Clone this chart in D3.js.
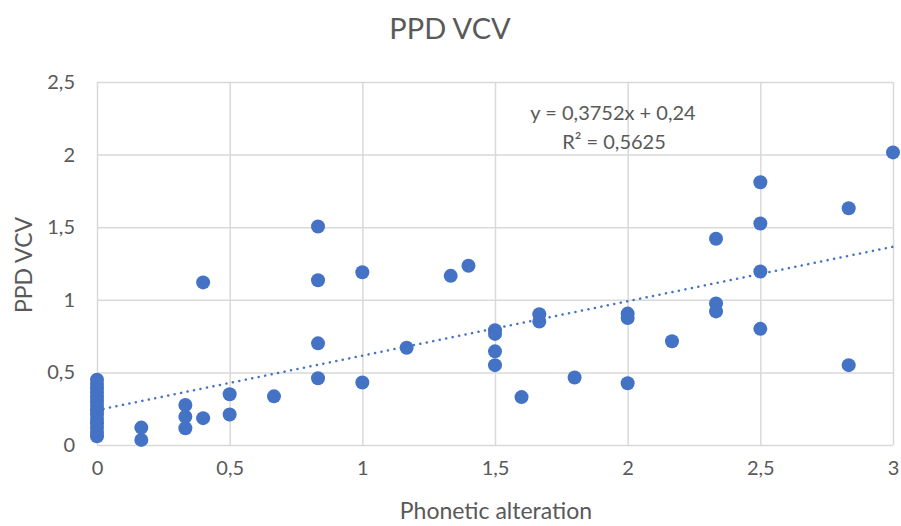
<!DOCTYPE html>
<html>
<head>
<meta charset="utf-8">
<script src="https://cdn.jsdelivr.net/npm/d3@7"></script>
<style>
  body { margin: 0; background: #fff; }
  text { font-family: Lato, "Open Sans", sans-serif; fill: #595959; }
</style>
</head>
<body>
<div class="container"></div>
<script>
// data
const phonetic = [
  0, 0, 0, 0, 0, 0, 0, 0, 0, 0, 0, 0, 0, 0,
  0.167, 0.167,
  0.333, 0.333, 0.333,
  0.4, 0.4,
  0.5, 0.5,
  0.667,
  0.833, 0.833, 0.833, 0.833,
  1, 1,
  1.167, 1.333, 1.4,
  1.5, 1.5, 1.5, 1.5,
  1.6,
  1.667, 1.667,
  1.8,
  2, 2, 2,
  2.167,
  2.333, 2.333, 2.333,
  2.5, 2.5, 2.5, 2.5,
  2.833, 2.833,
  3
]
const ppdVcv = [
  0.06, 0.09, 0.12, 0.15, 0.18, 0.21, 0.24, 0.27, 0.30, 0.33, 0.36, 0.39, 0.42, 0.45,
  0.035, 0.12,
  0.275, 0.195, 0.115,
  1.12, 0.185,
  0.35, 0.21,
  0.335,
  1.505, 1.135, 0.70, 0.46,
  1.19, 0.43,
  0.67, 1.165, 1.235,
  0.79, 0.765, 0.645, 0.55,
  0.33,
  0.90, 0.85,
  0.465,
  0.905, 0.875, 0.425,
  0.715,
  1.42, 0.975, 0.92,
  1.81, 1.525, 1.195, 0.80,
  1.63, 0.55,
  2.015
]
const xTicks = [0, 0.5, 1, 1.5, 2, 2.5, 3]
const yTicks = [0, 0.5, 1, 1.5, 2, 2.5]
const slope = 0.3752
const intercept = 0.24

const w = 901
const h = 526
const plotL = 97, plotR = 893, plotT = 82, plotB = 445

const fmt = d => String(d).replace('.', ',')

const svg = d3.select('.container')
  .append('svg')
  .attr('width', w)
  .attr('height', h)

const xScale = d3.scaleLinear().domain([0, 3]).range([plotL, plotR])
const yScale = d3.scaleLinear().domain([0, 2.5]).range([plotB, plotT])

// gridlines
const xAxis = d3.axisBottom(xScale)
  .tickValues(xTicks)
  .tickSize(-(plotB - plotT))
  .tickPadding(14)
  .tickFormat(fmt)

const yAxis = d3.axisLeft(yScale)
  .tickValues(yTicks)
  .tickSize(-(plotR - plotL))
  .tickPadding(22)
  .tickFormat(fmt)

const gx = svg.append('g')
  .attr('id', 'x-axis')
  .attr('transform', 'translate(0,' + plotB + ')')
  .call(xAxis)

const gy = svg.append('g')
  .attr('id', 'y-axis')
  .attr('transform', 'translate(' + plotL + ',0)')
  .call(yAxis)

;[gx, gy].forEach(g => {
  g.select('.domain').remove()
  g.selectAll('line').attr('stroke', '#d9d9d9').attr('stroke-width', 1.5)
  g.selectAll('text').style('font-size', '20px').style('fill', '#595959')
})
gx.selectAll('text').attr('dy', '0.8em')

// points
svg.append('g')
  .selectAll('circle')
  .data(phonetic.map((x, i) => ({ x: x, y: ppdVcv[i] })))
  .enter()
  .append('circle')
  .attr('cx', d => xScale(d.x))
  .attr('cy', d => yScale(d.y))
  .attr('r', 7)
  .attr('fill', '#4472c4')

// trendline
svg.append('line')
  .attr('x1', xScale(0))
  .attr('y1', yScale(intercept))
  .attr('x2', xScale(3))
  .attr('y2', yScale(slope * 3 + intercept))
  .attr('stroke', '#4472c4')
  .attr('stroke-width', 2.5)
  .attr('stroke-linecap', 'round')
  .attr('stroke-dasharray', '0.1 6.5')

// equation label
svg.append('text')
  .attr('x', 613)
  .attr('y', 120)
  .attr('text-anchor', 'middle')
  .style('font-size', '20px')
  .text('y = ' + fmt(slope) + 'x + ' + fmt(intercept))

svg.append('text')
  .attr('x', 614)
  .attr('y', 149)
  .attr('text-anchor', 'middle')
  .style('font-size', '20px')
  .text('R² = 0,5625')

// title
svg.append('text')
  .attr('x', 450)
  .attr('y', 39)
  .attr('text-anchor', 'middle')
  .style('font-size', '29px')
  .text('PPD VCV')

// axis titles
svg.append('text')
  .attr('x', 496)
  .attr('y', 519)
  .attr('text-anchor', 'middle')
  .style('font-size', '23px')
  .text('Phonetic alteration')

svg.append('text')
  .attr('transform', 'translate(32,265) rotate(-90)')
  .attr('text-anchor', 'middle')
  .style('font-size', '23px')
  .text('PPD VCV')
</script>
</body>
</html>
